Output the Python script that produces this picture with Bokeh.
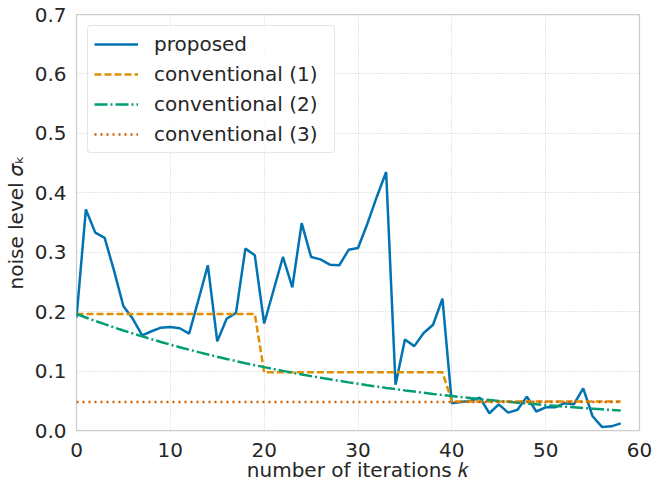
from bokeh.plotting import figure
from bokeh.models import (Legend, LegendItem, FixedTicker, Range1d,
                          NumeralTickFormatter)
from bokeh.embed import file_html
from bokeh.resources import INLINE

# ---------------- data ----------------
iterations = list(range(59))

proposed = [0.190, 0.372, 0.333, 0.324, 0.269, 0.209, 0.188, 0.160, 0.167, 0.173,
            0.174, 0.172, 0.163, 0.220, 0.278, 0.150, 0.188, 0.198, 0.306, 0.295,
            0.180, 0.236, 0.292, 0.241, 0.349, 0.292, 0.288, 0.279, 0.278, 0.304,
            0.307, 0.348, 0.393, 0.435, 0.077, 0.153, 0.142, 0.164, 0.178, 0.222,
            0.046, 0.048, 0.050, 0.055, 0.029, 0.044, 0.030, 0.035, 0.057, 0.032,
            0.039, 0.039, 0.046, 0.044, 0.071, 0.024, 0.006, 0.007, 0.012]

conventional_1 = [0.196, 0.196, 0.196, 0.196, 0.196, 0.196, 0.196, 0.196, 0.196, 0.196,
                  0.196, 0.196, 0.196, 0.196, 0.196, 0.196, 0.196, 0.196, 0.196, 0.196,
                  0.098, 0.098, 0.098, 0.098, 0.098, 0.098, 0.098, 0.098, 0.098, 0.098,
                  0.098, 0.098, 0.098, 0.098, 0.098, 0.098, 0.098, 0.098, 0.098, 0.098,
                  0.049, 0.049, 0.049, 0.049, 0.049, 0.049, 0.049, 0.049, 0.049, 0.049,
                  0.049, 0.049, 0.049, 0.049, 0.049, 0.049, 0.049, 0.049, 0.049]

conventional_2 = [0.1960, 0.1901, 0.1844, 0.1789, 0.1735, 0.1683, 0.1633, 0.1584, 0.1536, 0.1490,
                  0.1445, 0.1402, 0.1360, 0.1319, 0.1280, 0.1241, 0.1204, 0.1168, 0.1133, 0.1099,
                  0.1066, 0.1034, 0.1003, 0.0973, 0.0944, 0.0915, 0.0888, 0.0861, 0.0835, 0.0810,
                  0.0786, 0.0762, 0.0740, 0.0717, 0.0696, 0.0675, 0.0655, 0.0635, 0.0616, 0.0598,
                  0.0580, 0.0562, 0.0545, 0.0529, 0.0513, 0.0498, 0.0483, 0.0468, 0.0454, 0.0441,
                  0.0427, 0.0415, 0.0402, 0.0390, 0.0378, 0.0367, 0.0356, 0.0345, 0.0335]

conventional_3 = [0.048, 0.048, 0.048, 0.048, 0.048, 0.048, 0.048, 0.048, 0.048, 0.048,
                  0.048, 0.048, 0.048, 0.048, 0.048, 0.048, 0.048, 0.048, 0.048, 0.048,
                  0.048, 0.048, 0.048, 0.048, 0.048, 0.048, 0.048, 0.048, 0.048, 0.048,
                  0.048, 0.048, 0.048, 0.048, 0.048, 0.048, 0.048, 0.048, 0.048, 0.048,
                  0.048, 0.048, 0.048, 0.048, 0.048, 0.048, 0.048, 0.048, 0.048, 0.048,
                  0.048, 0.048, 0.048, 0.048, 0.048, 0.048, 0.048, 0.048, 0.048]

series_names = ["proposed", "conventional (1)", "conventional (2)", "conventional (3)"]
x_ticks = [0, 10, 20, 30, 40, 50, 60]
y_ticks = [0.0, 0.1, 0.2, 0.3, 0.4, 0.5, 0.6, 0.7]
x_title = "number of iterations \U0001D458"
y_title = "noise level \U0001D70E\u2096"

# ---------------- style ----------------
FONT = "DejaVu Sans"
TXT = "#262626"
GRID = "#cccccc"
colors = ["#0173b2", "#de8f05", "#029e73", "#d55e00"]
dashes = ["solid", "7 3", "13 3 2 3", "2 4"]
LW = 2.5

# frame: x 74..639, y 14..430 in a 652x485 canvas
p = figure(width=652, height=485, output_backend="svg", toolbar_location=None,
           x_range=Range1d(0, 60), y_range=Range1d(0, 0.7),
           min_border_left=74, min_border_right=13, min_border_top=14, min_border_bottom=55)
p.background_fill_color = "white"
p.border_fill_color = "white"
p.outline_line_color = GRID
p.outline_line_width = 1.25

for ax in (p.xaxis, p.yaxis):
    ax.axis_line_color = None
    ax.major_tick_line_color = None
    ax.minor_tick_line_color = None
    ax.major_tick_out = 0
    ax.major_tick_in = 0
    ax.major_label_text_font = FONT
    ax.major_label_text_font_size = "20px"
    ax.major_label_text_color = TXT
    ax.axis_label_text_font = FONT
    ax.axis_label_text_font_size = "20px"
    ax.axis_label_text_color = TXT
    ax.axis_label_text_font_style = "normal"

p.xaxis.ticker = FixedTicker(ticks=x_ticks)
p.yaxis.ticker = FixedTicker(ticks=y_ticks)
p.xaxis.formatter = NumeralTickFormatter(format="0")
p.yaxis.formatter = NumeralTickFormatter(format="0.0")
p.xaxis.major_label_standoff = 12
p.yaxis.major_label_standoff = 10
p.xaxis.axis_label = x_title
p.yaxis.axis_label = y_title
p.xaxis.axis_label_standoff = -2
p.yaxis.axis_label_standoff = 4

p.xgrid.ticker = FixedTicker(ticks=x_ticks)
p.ygrid.ticker = FixedTicker(ticks=y_ticks)
for g in (p.xgrid, p.ygrid):
    g.grid_line_color = GRID
    g.grid_line_dash = "1 2"
    g.grid_line_width = 1

series = [proposed, conventional_1, conventional_2, conventional_3]
renderers = []
for vals, c, d in zip(series, colors, dashes):
    r = p.line(iterations, vals, line_color=c, line_width=LW, line_dash=d)
    renderers.append(r)

legend = Legend(items=[LegendItem(label=n, renderers=[r]) for n, r in zip(series_names, renderers)],
                location="top_left", margin=11, padding=6, spacing=6,
                glyph_width=44, glyph_height=22, label_height=22, label_width=174,
                label_standoff=16,
                label_text_font=FONT, label_text_font_size="20px", label_text_color=TXT,
                border_line_color=GRID, border_line_width=1,
                background_fill_color="white", background_fill_alpha=0.8)
try:
    legend.border_radius = 4
except Exception:
    pass
p.add_layout(legend)

open("out.html", "w").write(file_html(p, INLINE))
